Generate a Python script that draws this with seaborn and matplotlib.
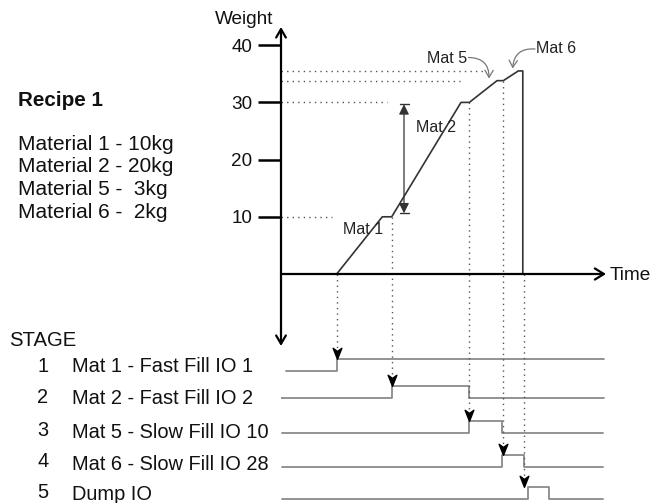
import matplotlib
matplotlib.use("Agg")
import matplotlib.pyplot as plt
import seaborn as sns
import pandas as pd
from matplotlib.path import Path

# ---------------- data ----------------
fill_time = [5.57, 10.13, 11.07, 18.0, 18.83, 21.6, 22.23, 23.73, 24.18, 24.18]
fill_weight = [0, 10, 10, 30, 30, 33.8, 33.8, 35.5, 35.5, 0]
weight_ticks = [10, 20, 30, 40]

recipe_title = "Recipe 1"
recipe_lines = ["Material 1 - 10kg", "Material 2 - 20kg",
                "Material 5 -  3kg", "Material 6 -  2kg"]

stage_numbers = ["1", "2", "3", "4", "5"]
stage_names = ["Mat 1 - Fast Fill IO 1", "Mat 2 - Fast Fill IO 2",
               "Mat 5 - Slow Fill IO 10", "Mat 6 - Slow Fill IO 28", "Dump IO"]
stage1_time = [0.5, 5.57, 32.3]
stage1_level = [0, 1, 1]
stage2_time = [0.0, 11.07, 18.83, 32.3]
stage2_level = [0, 1, 0, 0]
stage3_time = [0.13, 18.83, 22.13, 32.2]
stage3_level = [0, 1, 0, 0]
stage4_time = [0.13, 22.13, 24.33, 32.2]
stage4_level = [0, 1, 0, 0]
stage5_time = [0.13, 24.67, 26.83, 32.2]
stage5_level = [0, 1, 0, 0]

# trigger points: where each stage starts (dotted drop lines)
trigger_time = [5.57, 11.07, 18.83, 22.23, 24.3]
trigger_weight = [0, 10, 30, 33.8, 0]
# dotted reference levels on the weight axis
guide_weight = [10, 30, 33.8, 35.5]
guide_end_time = [5.07, 10.57, 17.9, 20.4]

# ---------------- layout helpers ----------------
W, H = 655, 503
X0 = 281.0      # pixel of time 0
TPX = 10.0      # pixels per time unit
Y0 = 274.0      # pixel of weight 0
WPX = 5.72      # pixels per kg


def w_of(ypx):
    return (Y0 - ypx) / WPX


def fx(x):
    return x / W


def fy(y):
    return 1 - y / H


sns.set_theme(style="white")
plt.rcParams["font.family"] = ["Liberation Sans", "DejaVu Sans"]

fig = plt.figure(figsize=(W / 100, H / 100), dpi=100)
ax = fig.add_axes([X0 / W, 0, 1 - X0 / W, 1])

DOT = (0, (1, 3))
DOTC = "#555555"

# dotted horizontal guides
for gw, ge in zip(guide_weight, guide_end_time):
    ax.plot([0, ge], [gw, gw], ls=DOT, color=DOTC, lw=1.0)

# fill curve
df = pd.DataFrame({"t": fill_time, "w": fill_weight})
sns.lineplot(data=df, x="t", y="w", ax=ax, sort=False, estimator=None,
             color="#333333", lw=1.2)

# axes arrows
ax.annotate("", xy=(0, w_of(27)), xytext=(0, w_of(346)),
            arrowprops=dict(arrowstyle="<->,head_length=0.6,head_width=0.35",
                            mutation_scale=10, lw=1.6, color="black",
                            shrinkA=0, shrinkB=0))
ax.annotate("", xy=((606 - X0) / TPX, 0), xytext=(0, 0),
            arrowprops=dict(arrowstyle="->,head_length=0.65,head_width=0.4",
                            mutation_scale=10, lw=1.6, color="black",
                            shrinkA=0, shrinkB=0))
fig.text(fx(273), fy(20), "Weight", ha="right", va="center", fontsize=13.7, color="#111")
fig.text(fx(610), fy(275), "Time", ha="left", va="center", fontsize=13.7, color="#111")

# Mat 2 span arrow
span_t = (404 - X0) / TPX
ax.annotate("", xy=(span_t, w_of(104.3)), xytext=(span_t, w_of(213.3)),
            arrowprops=dict(arrowstyle="<|-|>,head_length=0.6,head_width=0.3",
                            mutation_scale=10, lw=0.9, color="#333333",
                            shrinkA=0, shrinkB=0))
for yy in (104.3, 213.3):
    ax.plot([span_t - 0.45, span_t + 0.45], [w_of(yy), w_of(yy)], color="#333333", lw=1.0)

# chart labels
lab = dict(fontsize=11.5, ha="left", va="center", color="#222")
ax.text((343 - X0) / TPX, w_of(229), "Mat 1", **lab)
ax.text((415.5 - X0) / TPX, w_of(127.7), "Mat 2", **lab)
ax.text((427 - X0) / TPX, w_of(58.3), "Mat 5", **lab)
ax.text((536 - X0) / TPX, w_of(48.3), "Mat 6", **lab)
ax.annotate("", xy=((489 - X0) / TPX, w_of(78.5)), xytext=((468.5 - X0) / TPX, w_of(57.5)),
            arrowprops=dict(arrowstyle="->,head_length=0.5,head_width=0.3",
                            mutation_scale=10, lw=0.9, color="#777777",
                            connectionstyle="arc3,rad=-0.5", shrinkA=0, shrinkB=0))
ax.annotate("", xy=((512.7 - X0) / TPX, w_of(68.5)), xytext=((535 - X0) / TPX, w_of(49)),
            arrowprops=dict(arrowstyle="->,head_length=0.5,head_width=0.3",
                            mutation_scale=10, lw=0.9, color="#777777",
                            connectionstyle="arc3,rad=0.5", shrinkA=0, shrinkB=0))

# recipe text
fig.text(fx(18), fy(100), recipe_title, ha="left", va="center", fontsize=14.9,
         fontweight="bold", color="#111")
for i, line in enumerate(recipe_lines):
    fig.text(fx(18), fy(144 + 23 * i), line, ha="left", va="center", fontsize=15, color="#111")

# stage section
fig.text(fx(9), fy(340), "STAGE", ha="left", va="center", fontsize=14.6, color="#111")
num_y = [366.7, 397.7, 431, 461.7, 492.7]
name_y = [366.7, 399, 432.3, 465, 495]
for n, ny, name, nmy in zip(stage_numbers, num_y, stage_names, name_y):
    fig.text(fx(43), fy(ny), n, ha="center", va="center", fontsize=14.4, color="#111")
    fig.text(fx(71.5), fy(nmy), name, ha="left", va="center", fontsize=14.4, color="#111")

stage_base_px = [371, 398, 433, 467, 498.5]
STEP = 12.0
stage_times = [stage1_time, stage2_time, stage3_time, stage4_time, stage5_time]
stage_levels = [stage1_level, stage2_level, stage3_level, stage4_level, stage5_level]
for base, ts, lv in zip(stage_base_px, stage_times, stage_levels):
    yv = [w_of(base) + l * STEP / WPX for l in lv]
    sns.lineplot(x=ts, y=yv, ax=ax, sort=False, estimator=None,
                 drawstyle="steps-post", color="#8a8a8a", lw=1.3)

# trigger arrows + dotted drop lines
marker = Path([(0, -1), (-0.75, 0.9), (0, 0.35), (0.75, 0.9), (0, -1)],
              [Path.MOVETO, Path.LINETO, Path.LINETO, Path.LINETO, Path.CLOSEPOLY])
for tt, tw, base in zip(trigger_time, trigger_weight, stage_base_px):
    center = base - STEP - 6
    ax.plot([tt, tt], [tw, w_of(center - 3)], ls=DOT, color=DOTC, lw=1.0)
    ax.scatter([tt], [w_of(center)], marker=marker, s=70, color="black", zorder=5)

# axis cosmetics
ax.set_xlim(0, (W - X0) / TPX)
ax.set_ylim(w_of(H), w_of(0))
for s in ax.spines.values():
    s.set_visible(False)
ax.set_xlabel("")
ax.set_ylabel("")
ax.set_xticks([])
ax.set_yticks(weight_ticks)
ax.set_yticklabels([str(v) for v in weight_ticks])
ax.tick_params(axis="y", left=True, direction="out", length=16.5, width=1.8,
               color="black", labelsize=13.6, pad=4, labelcolor="#111")
ax.set_facecolor("white")
ax.grid(False)

fig.savefig("out.png", dpi=100, facecolor="white")
